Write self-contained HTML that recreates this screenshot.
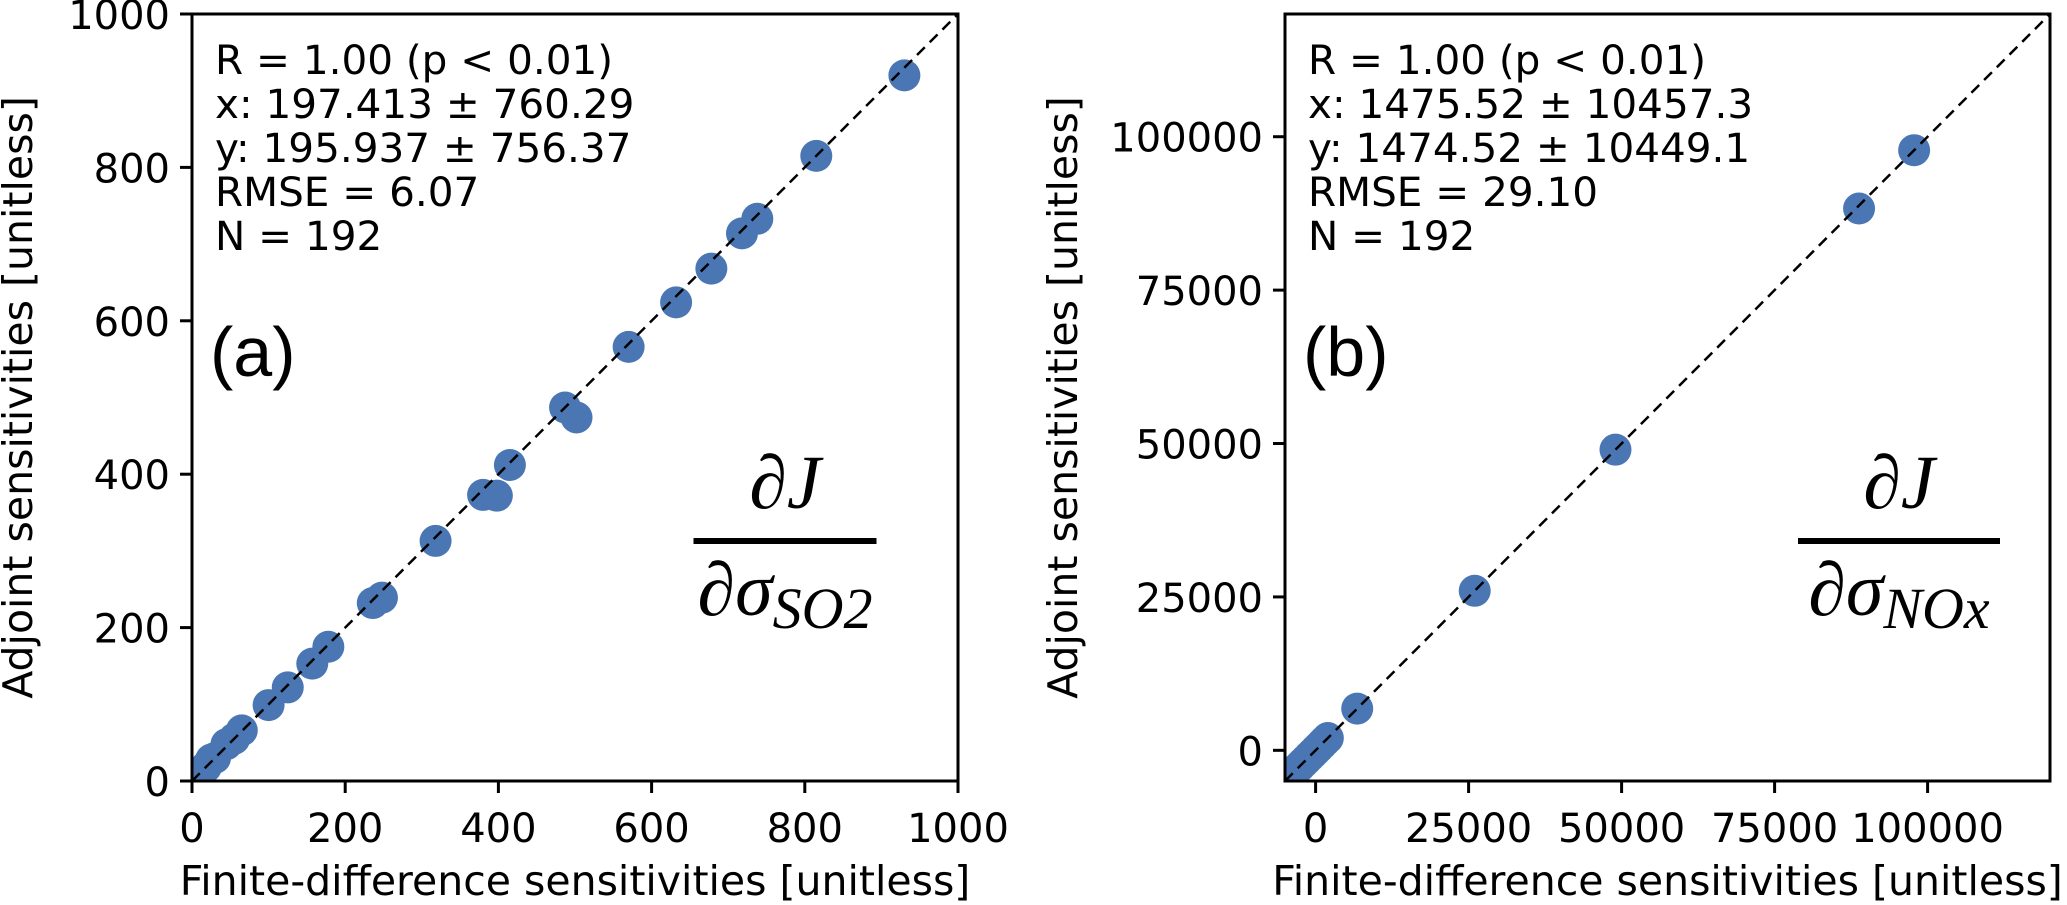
<!DOCTYPE html>
<html><head><meta charset="utf-8"><style>
body{margin:0;background:#fff;}
svg{display:block;font-family:"DejaVu Sans","Liberation Sans",sans-serif;}
</style></head><body>
<svg id="fig" width="2067" height="905" viewBox="0 0 2067 905"></svg>
<script>
const xA = [930,815,738,718,678,632,570,487,502,415,380,398,318,248,236,178,157,125,100,65,55,45,30,25,18,10,5,2];
const yA = [920,815,733,714,668,624,566,487,474,412,373,372,313,239,232,175,153,122,99,66,55,48,30,28,18,10,5,2];
const xB = [97800,88800,49000,26000,6800,2000,1500,1000,500,0,-500,-1000,-1500,-2000,-2500,-3000,-3500,-4000];
const yB = [97800,88300,49000,26000,6800,2000,1500,1000,500,0,-500,-1000,-1500,-2000,-2500,-3000,-3700,-4000];
const ticksA = [0,200,400,600,800,1000];
const ticksB = [0,25000,50000,75000,100000];
const statsA = ['R = 1.00 (p < 0.01)','x: 197.413 ± 760.29','y: 195.937 ± 756.37','RMSE = 6.07','N = 192'];
const statsB = ['R = 1.00 (p < 0.01)','x: 1475.52 ± 10457.3','y: 1474.52 ± 10449.1','RMSE = 29.10','N = 192'];

const NS='http://www.w3.org/2000/svg';
const svg=document.getElementById('fig');
function mk(tag,attrs,parent,text){const e=document.createElementNS(NS,tag);for(const k in attrs)e.setAttribute(k,attrs[k]);if(text!==undefined)e.textContent=text;(parent||svg).appendChild(e);return e;}

function panel(id,L,R,T,B,min,max,xs,ys,ticks,stats,letter,sub,fx,bw,yoff){
  const g=mk('g',{});
  
  
  const sx=v=>L+(v-min)/(max-min)*(R-L);
  const sy=v=>B-(v-min)/(max-min)*(B-T);
  const cp=mk('clipPath',{id:'clip'+id},g);
  mk('rect',{x:L,y:T,width:R-L,height:B-T},cp);
  const pts=mk('g',{'clip-path':'url(#clip'+id+')'},g);
  for(let i=0;i<xs.length;i++){
    const c=mk('circle',{cx:sx(xs[i]),cy:sy(ys[i]),r:16,fill:'#4a76b4'},pts);
    
    
  }
  const ln=mk('line',{x1:sx(min),y1:sy(min),x2:sx(max),y2:sy(max),stroke:'#000','stroke-width':2.5,'stroke-dasharray':'11 7'},pts);
  
  
  const fr=mk('rect',{x:L,y:T,width:R-L,height:B-T,fill:'none',stroke:'#000','stroke-width':3},g);
  
  
  ticks.forEach(t=>{
    mk('line',{x1:sx(t),y1:B,x2:sx(t),y2:B+12,stroke:'#000','stroke-width':3},g);
    const tx=mk('text',{x:sx(t),y:B+61,'font-size':40,'text-anchor':'middle'},g,String(t));
    
    
    mk('line',{x1:L-12,y1:sy(t),x2:L,y2:sy(t),stroke:'#000','stroke-width':3},g);
    const ty=mk('text',{x:L-22,y:sy(t)+15,'font-size':40,'text-anchor':'end'},g,String(t));
    
    
  });
  const xl=mk('text',{x:(L+R)/2,y:895,'font-size':41,'text-anchor':'middle'},g,'Finite-difference sensitivities [unitless]');
  
  
  const yc=(T+B)/2, yx=L-yoff;
  const yl=mk('text',{x:yx,y:yc,'font-size':41,'text-anchor':'middle',transform:'rotate(-90 '+yx+' '+yc+')'},g,'Adjoint sensitivities [unitless]');
  
  
  stats.forEach((s,i)=>{
    const st=mk('text',{x:L+23,y:T+60+i*44,'font-size':40.5},g,s);
    
    
  });
  const pl=mk('text',{x:L+18,y:T+362,'font-size':70,'font-family':'Liberation Sans, sans-serif'},g,letter);
  
  
  const fg=mk('g',{'font-family':'Liberation Serif, serif','font-style':'italic'},g);
  
  
  mk('text',{x:fx,y:508,'font-size':76,'text-anchor':'middle'},fg,'∂J');
  mk('line',{x1:fx-bw/2,y1:541,x2:fx+bw/2,y2:541,stroke:'#000','stroke-width':6},fg);
  const d=mk('text',{x:fx,y:615,'font-size':76,'text-anchor':'middle'},fg,'∂σ');
  mk('tspan',{'font-size':58,dy:13},d,sub);
}
panel('a',192,958,14,781,0,1000,xA,yA,ticksA,statsA,'(a)','SO2',785,183,160);
panel('b',1285,2050,14,781,-5000,120000,xB,yB,ticksB,statsB,'(b)','NOx',1899,202,208);
</script>
</body></html>
